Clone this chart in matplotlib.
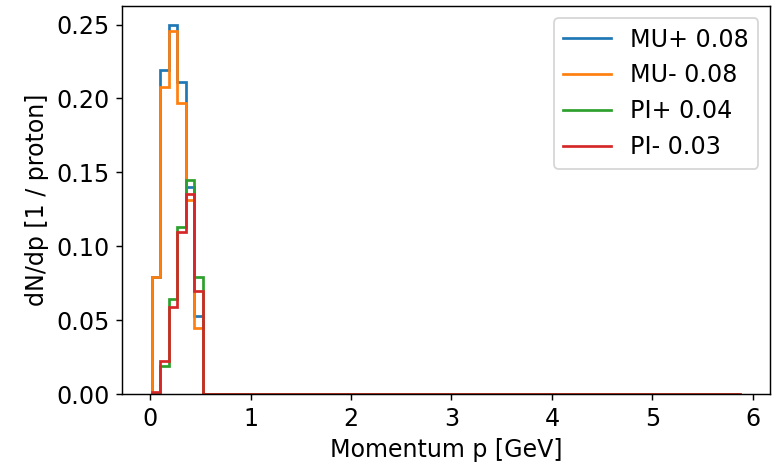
import numpy as np
from matplotlib import pyplot as plt
from matplotlib.lines import Line2D

plt.rcParams["font.size"] = 13.2

# ---- DATA ----
# momentum bins (GeV), 69 bins of ~0.085 GeV
edges = np.linspace(0.015, 5.88, 70)

# dN/dp per proton, first 7 bins (rest are zero)
mu_plus = [0.079, 0.219, 0.250, 0.211, 0.140, 0.053, 0.0]
mu_minus = [0.079, 0.208, 0.2455, 0.197, 0.1315, 0.0444, 0.0]
pi_plus = [0.0, 0.019, 0.064, 0.113, 0.145, 0.079, 0.0]
pi_minus = [0.0015, 0.022, 0.059, 0.1097, 0.1356, 0.0696, 0.0]

names = ["MU+", "MU-", "PI+", "PI-"]
series = [mu_plus, mu_minus, pi_plus, pi_minus]


def pad(vals, n):
    out = np.zeros(n)
    out[:len(vals)] = vals
    return out


fig, ax = plt.subplots(figsize=(778 / 130, 466 / 130), dpi=130)
fig.subplots_adjust(left=0.157, right=0.99, top=0.987, bottom=0.1545)

centers = 0.5 * (edges[:-1] + edges[1:])
handles = []
for i, (name, vals) in enumerate(zip(names, series)):
    h = pad(vals, len(centers))
    integral = np.sum(h * np.diff(edges))
    color = f"C{i}"
    ax.hist(centers, bins=edges, weights=h, histtype="step", lw=1.5, color=color)
    handles.append(Line2D([], [], color=color, lw=1.5, label=f"{name} {integral:.2f}"))

ax.set_xlabel("Momentum p [GeV]")
ax.set_ylabel("dN/dp [1 / proton]")
ax.legend(handles=handles, loc="upper right")

fig.savefig("out.png", dpi=130)
